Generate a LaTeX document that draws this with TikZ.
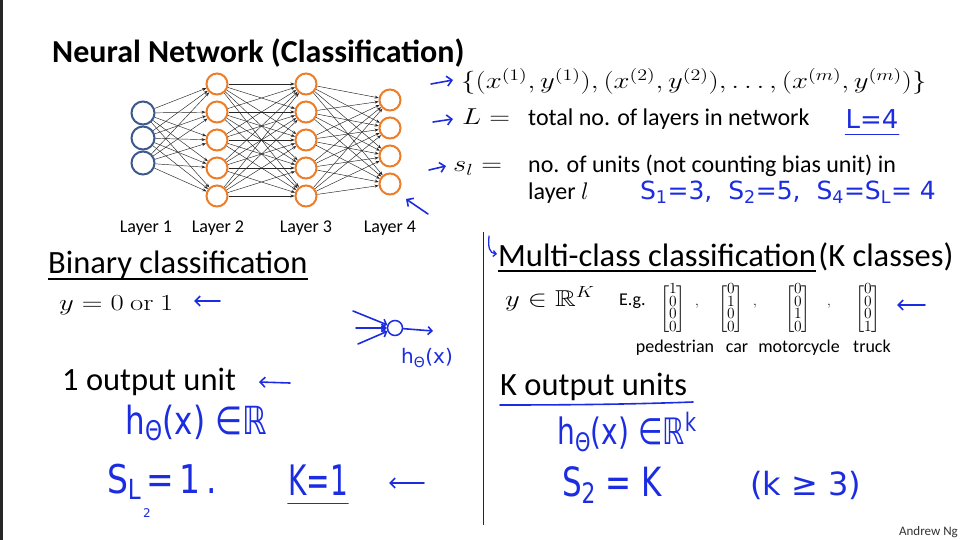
\RequirePackage{fix-cm}
\documentclass[tikz,border=0pt]{standalone}
\usepackage{amsmath,amssymb,graphicx}
\usepackage[no-math]{fontspec}
\setmainfont{Carlito}
\newfontfamily\hand{DejaVu Sans}
\usetikzlibrary{arrows.meta}
\definecolor{ink}{RGB}{28,45,225}
\definecolor{nnorange}{RGB}{237,125,40}
\definecolor{nnblue}{RGB}{60,90,140}
\newcommand{\fs}[1]{\fontsize{#1}{#1}\selectfont}
\newcommand{\mth}[1]{\scalebox{1.25}[1]{#1}}
\newcommand{\tall}[2]{\scalebox{1}[#1]{#2}}
\tikzset{
  txt/.style={inner sep=0pt, anchor=base west},
  hw/.style={inner sep=0pt, text=ink},
  hwline/.style={draw=ink, line width=1.6pt, line cap=round, line join=round},
  hwarrow/.style={hwline, -{Straight Barb[length=5pt,width=10pt]}},
  inl/.style={circle, draw=nnblue, line width=2pt, minimum size=23pt, inner sep=0pt},
  hid/.style={circle, draw=nnorange, line width=2pt, minimum size=21pt, inner sep=0pt},
  edge/.style={draw=black!85, line width=0.45pt, -{Stealth[length=4pt,width=3pt]}},
  mathtxt/.style={txt, font=\fs{23}},
  head/.style={txt, font=\fs{32.5}},
  vec/.style={inner sep=0pt, font=\fontsize{15.5}{9.5}\selectfont},
}
\begin{document}
\begin{tikzpicture}[x=1pt,y=-1pt]
\useasboundingbox (0,0) rectangle (963,540);
\fill[white] (0,0) rectangle (963,540);
\fill[black!85] (0,0) rectangle (2.5,540);

% ---------- title ----------
\node[txt, font=\fs{32}\bfseries] (title) at (52,63) {Neural Network (Classification)};

% ---------- network ----------
\foreach \i/\y in {1/113,2/138,3/163} \node[inl] (a\i) at (143,\y) {};
\foreach \i/\y in {1/84,2/112,3/140,4/168,5/196} \node[hid] (b\i) at (217,\y) {};
\foreach \i/\y in {1/84,2/112,3/140,4/168,5/196} \node[hid] (c\i) at (306,\y) {};
\foreach \i/\y in {1/100,2/128,3/156,4/184} \node[hid] (d\i) at (390,\y) {};
\foreach \i in {1,2,3} \foreach \j in {1,...,5} \draw[edge] (a\i) -- (b\j);
\foreach \i in {1,...,5} \foreach \j in {1,...,5} \draw[edge] (b\i) -- (c\j);
\foreach \i in {1,...,5} \foreach \j in {1,...,4} \draw[edge] (c\i) -- (d\j);

\node[inner sep=0pt, anchor=base, font=\fs{18}] (l1) at (146,232) {Layer 1};
\node[inner sep=0pt, anchor=base, font=\fs{18}] (l2) at (218,232) {Layer 2};
\node[inner sep=0pt, anchor=base, font=\fs{18}] (l3) at (306,232) {Layer 3};
\node[inner sep=0pt, anchor=base, font=\fs{18}] (l4) at (390,232) {Layer 4};

% ---------- top right ----------
\node[mathtxt] (set) at (461,89) {\mth{$\{(x^{(1)},y^{(1)}),(x^{(2)},y^{(2)}),\ldots,(x^{(m)},y^{(m)})\}$}};
\node[mathtxt] (Leq) at (462,125) {\mth{$L=$}};
\node[txt, font=\fs{24}] (tot) at (528,126) {total no. of layers in network};
\node[mathtxt] (sleq) at (453,172) {\mth{$s_l=$}};
\node[txt, font=\fs{24}] (units) at (528,173) {no. of units (not counting bias unit) in};
\node[txt, font=\fs{24}] (layerl) at (528,200) {layer $l$};

% handwritten, top
\coordinate (ar1s) at (431,84); \coordinate (ar1e) at (453,80);
\coordinate (ar2s) at (433,122); \coordinate (ar2e) at (453,119);
\coordinate (ar3s) at (429,170); \coordinate (ar3e) at (446,166);
\draw[hwarrow] (ar1s) -- (ar1e);
\draw[hwarrow] (ar2s) -- (ar2e);
\draw[hwarrow] (ar3s) -- (ar3e);
\node[hw, font=\hand\fs{26}] (L4) at (872,119) {L=4};
\draw[hwline] ([yshift=-6pt]L4.south west) -- ([yshift=-6pt]L4.south east);
\node[hw, font=\hand\fs{25}] (srow) at (788,192) {S\textsubscript{1}=3,\ \ S\textsubscript{2}=5,\ \ S\textsubscript{4}=S\textsubscript{L}=\ 4};
\coordinate (ar4s) at (428,214); \coordinate (ar4e) at (406,199);
\draw[hwarrow] (ar4s) -- (ar4e);

% ---------- binary ----------
\node[head] (bin) at (48,273) {Binary classification};
\draw[line width=1.3pt] ([yshift=-6pt]bin.base west) -- ([yshift=-6pt]bin.base east);
\node[mathtxt] (y01) at (59,310) {\mth{$y=0\ \mathrm{or}\ 1$}};
\coordinate (ar5s) at (220,301); \coordinate (ar5e) at (194,301);
\draw[hwarrow] (ar5s) -- (ar5e);
\node[head] (one) at (62,390) {1 output unit};
\coordinate (ar6s) at (290,383); \coordinate (ar6e) at (259,382);
\draw[hwarrow] (ar6s) -- (ar6e);

% neuron sketch
\node[circle, draw=ink, line width=1.5pt, minimum size=15pt, inner sep=0pt] (neu) at (395,328) {};
\coordinate (in1) at (353,311); \coordinate (in2) at (356,328); \coordinate (in3) at (358,344);
\coordinate (outn) at (433,331);
\draw[hwline, -{Straight Barb[length=4pt,width=8pt]}] (in1) -- (neu);
\draw[hwline, -{Straight Barb[length=4pt,width=8pt]}] (in2) -- (neu);
\draw[hwline, -{Straight Barb[length=4pt,width=8pt]}] (in3) -- (neu);
\draw[hwline, -{Straight Barb[length=4pt,width=8pt]}] (neu) -- (outn);
\node[hw, font=\hand\fs{20}] (hsk) at (427,358) {h\textsubscript{Θ}(x)};

\node[hw, font=\hand\fs{31}] (hR) at (196,423) {\tall{1.25}{h\textsubscript{Θ}(x) ∈ℝ}};
\node[hw, font=\hand\fs{33}] (sl1) at (162,482) {\tall{1.2}{S\textsubscript{L}\,=\,1\,.}};
\node[hw, font=\hand\fs{12}] (two) at (147,513) {2};
\node[hw, font=\hand\fs{28}] (k1) at (318,480) {\tall{1.5}{K=1}};
\draw[hwline] ([yshift=-8pt]k1.south west) -- ([yshift=-8pt]k1.south east);
\coordinate (ar7s) at (424,483); \coordinate (ar7e) at (389,483);
\draw[hwarrow] (ar7s) -- (ar7e);

% ---------- separator ----------
\coordinate (sepT) at (483,232); \coordinate (sepB) at (483,525);
\draw[line width=1pt, black!85] (sepT) -- (sepB);
\coordinate (hk1) at (489,236); \coordinate (hk2) at (497,254);
\draw[hwline, line width=1.3pt, -{Straight Barb[length=3pt,width=6pt]}] (hk1) .. controls (488,247) and (489,253) .. (hk2);

% ---------- multi-class ----------
\node[head] (multi) at (498,266) {Multi-class classification};
\draw[line width=1.3pt] ([yshift=-5pt]multi.base west) -- ([yshift=-5pt]multi.base east);
\node[head] (kcl) at ([xshift=2pt]multi.base east) {(K classes)};
\node[mathtxt] (yR) at (505,306) {\mth{$y\in\mathbb{R}^K$}};
\node[txt, font=\fs{18}] (eg) at (619,305) {E.g.};
\node[vec] (v1) at (673,309) {$\begin{bmatrix}1\\0\\0\\0\end{bmatrix}$};
\node[vec] (v2) at (731,309) {$\begin{bmatrix}0\\1\\0\\0\end{bmatrix}$};
\node[vec] (v3) at (798,309) {$\begin{bmatrix}0\\0\\1\\0\end{bmatrix}$};
\node[vec] (v4) at (868,309) {$\begin{bmatrix}0\\0\\0\\1\end{bmatrix}$};
\node[inner sep=0pt, font=\fs{14}] (cm1) at (697,306) {$,$};
\node[inner sep=0pt, font=\fs{14}] (cm2) at (755,306) {$,$};
\node[inner sep=0pt, font=\fs{14}] (cm3) at (829,306) {$,$};
\coordinate (ar8s) at (925,305); \coordinate (ar8e) at (897,305);
\draw[hwarrow] (ar8s) -- (ar8e);
\node[inner sep=0pt, anchor=base, font=\fs{18}] (ped) at (675,352) {pedestrian};
\node[inner sep=0pt, anchor=base, font=\fs{18}] (car) at (737,352) {car};
\node[inner sep=0pt, anchor=base, font=\fs{18}] (moto) at (799,352) {motorcycle};
\node[inner sep=0pt, anchor=base, font=\fs{18}] (truck) at (872,352) {truck};

\node[head] (kout) at (500,395) {K output units};
\coordinate (ulA) at (500,405); \coordinate (ulB) at (693,402);
\draw[hwline] (ulA) .. controls (580,405) and (640,404) .. (ulB);
\node[hw, font=\hand\fs{28}] (hRk) at (627,432) {\tall{1.3}{h\textsubscript{Θ}(x) ∈ℝ\textsuperscript{k}}};
\node[hw, font=\hand\fs{31}] (s2k) at (612,485) {\tall{1.3}{S\textsubscript{2} = K}};
\node[hw, font=\hand\fs{32}] (kge) at (806,485) {(k ≥ 3)};

\node[inner sep=0pt, anchor=base east, font=\fs{13}, text=black!80] (ng) at (958,535) {Andrew Ng};
\end{tikzpicture}
\end{document}
